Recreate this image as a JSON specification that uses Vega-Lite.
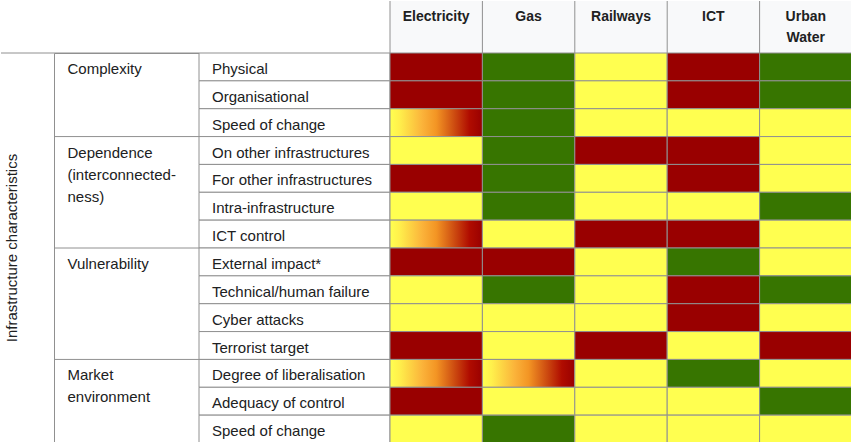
{
  "$schema": "https://vega.github.io/schema/vega-lite/v6.json",
  "padding": 0,
  "spacing": 0,
  "bounds": "flush",
  "columns": 4,
  "config": {"view": {"stroke": null}, "font": "Liberation Sans", "concat": {"spacing": 0}},
  "datasets": {
    "rows": [
      {"row": 1, "sub": "Physical"},
      {"row": 2, "sub": "Organisational"},
      {"row": 3, "sub": "Speed of change"},
      {"row": 4, "sub": "On other infrastructures"},
      {"row": 5, "sub": "For other infrastructures"},
      {"row": 6, "sub": "Intra-infrastructure"},
      {"row": 7, "sub": "ICT control"},
      {"row": 8, "sub": "External impact*"},
      {"row": 9, "sub": "Technical/human failure"},
      {"row": 10, "sub": "Cyber attacks"},
      {"row": 11, "sub": "Terrorist target"},
      {"row": 12, "sub": "Degree of liberalisation"},
      {"row": 13, "sub": "Adequacy of control"},
      {"row": 14, "sub": "Speed of change"}
    ],
    "groups": [
      {"row": 1, "label": ["Complexity"]},
      {"row": 4, "label": ["Dependence", "(interconnected-", "ness)"]},
      {"row": 8, "label": ["Vulnerability"]},
      {"row": 12, "label": ["Market", "environment"]}
    ],
    "infra": [
      {"infra": "Electricity", "label": ["Electricity"]},
      {"infra": "Gas", "label": ["Gas"]},
      {"infra": "Railways", "label": ["Railways"]},
      {"infra": "ICT", "label": ["ICT"]},
      {"infra": "Urban Water", "label": ["Urban", "Water"]}
    ],
    "cells": [
      {"row": 1, "infra": "Electricity", "level": "high"},
      {"row": 1, "infra": "Gas", "level": "low"},
      {"row": 1, "infra": "Railways", "level": "medium"},
      {"row": 1, "infra": "ICT", "level": "high"},
      {"row": 1, "infra": "Urban Water", "level": "low"},
      {"row": 2, "infra": "Electricity", "level": "high"},
      {"row": 2, "infra": "Gas", "level": "low"},
      {"row": 2, "infra": "Railways", "level": "medium"},
      {"row": 2, "infra": "ICT", "level": "high"},
      {"row": 2, "infra": "Urban Water", "level": "low"},
      {"row": 3, "infra": "Electricity", "level": "mixed"},
      {"row": 3, "infra": "Gas", "level": "low"},
      {"row": 3, "infra": "Railways", "level": "medium"},
      {"row": 3, "infra": "ICT", "level": "medium"},
      {"row": 3, "infra": "Urban Water", "level": "medium"},
      {"row": 4, "infra": "Electricity", "level": "medium"},
      {"row": 4, "infra": "Gas", "level": "low"},
      {"row": 4, "infra": "Railways", "level": "high"},
      {"row": 4, "infra": "ICT", "level": "high"},
      {"row": 4, "infra": "Urban Water", "level": "medium"},
      {"row": 5, "infra": "Electricity", "level": "high"},
      {"row": 5, "infra": "Gas", "level": "low"},
      {"row": 5, "infra": "Railways", "level": "medium"},
      {"row": 5, "infra": "ICT", "level": "high"},
      {"row": 5, "infra": "Urban Water", "level": "medium"},
      {"row": 6, "infra": "Electricity", "level": "medium"},
      {"row": 6, "infra": "Gas", "level": "low"},
      {"row": 6, "infra": "Railways", "level": "medium"},
      {"row": 6, "infra": "ICT", "level": "medium"},
      {"row": 6, "infra": "Urban Water", "level": "low"},
      {"row": 7, "infra": "Electricity", "level": "mixed"},
      {"row": 7, "infra": "Gas", "level": "medium"},
      {"row": 7, "infra": "Railways", "level": "high"},
      {"row": 7, "infra": "ICT", "level": "high"},
      {"row": 7, "infra": "Urban Water", "level": "medium"},
      {"row": 8, "infra": "Electricity", "level": "high"},
      {"row": 8, "infra": "Gas", "level": "high"},
      {"row": 8, "infra": "Railways", "level": "medium"},
      {"row": 8, "infra": "ICT", "level": "low"},
      {"row": 8, "infra": "Urban Water", "level": "medium"},
      {"row": 9, "infra": "Electricity", "level": "medium"},
      {"row": 9, "infra": "Gas", "level": "low"},
      {"row": 9, "infra": "Railways", "level": "medium"},
      {"row": 9, "infra": "ICT", "level": "high"},
      {"row": 9, "infra": "Urban Water", "level": "low"},
      {"row": 10, "infra": "Electricity", "level": "medium"},
      {"row": 10, "infra": "Gas", "level": "medium"},
      {"row": 10, "infra": "Railways", "level": "medium"},
      {"row": 10, "infra": "ICT", "level": "high"},
      {"row": 10, "infra": "Urban Water", "level": "medium"},
      {"row": 11, "infra": "Electricity", "level": "high"},
      {"row": 11, "infra": "Gas", "level": "medium"},
      {"row": 11, "infra": "Railways", "level": "high"},
      {"row": 11, "infra": "ICT", "level": "medium"},
      {"row": 11, "infra": "Urban Water", "level": "high"},
      {"row": 12, "infra": "Electricity", "level": "mixed"},
      {"row": 12, "infra": "Gas", "level": "mixed"},
      {"row": 12, "infra": "Railways", "level": "medium"},
      {"row": 12, "infra": "ICT", "level": "low"},
      {"row": 12, "infra": "Urban Water", "level": "medium"},
      {"row": 13, "infra": "Electricity", "level": "high"},
      {"row": 13, "infra": "Gas", "level": "medium"},
      {"row": 13, "infra": "Railways", "level": "medium"},
      {"row": 13, "infra": "ICT", "level": "medium"},
      {"row": 13, "infra": "Urban Water", "level": "low"},
      {"row": 14, "infra": "Electricity", "level": "medium"},
      {"row": 14, "infra": "Gas", "level": "low"},
      {"row": 14, "infra": "Railways", "level": "medium"},
      {"row": 14, "infra": "ICT", "level": "medium"},
      {"row": 14, "infra": "Urban Water", "level": "medium"}
    ]
  },
  "concat": [
    {
      "width": 53,
      "height": 52,
      "data": {"values": [{"t": ""}]},
      "mark": {"type": "text"},
      "encoding": {"text": {"field": "t"}}
    },
    {
      "width": 145,
      "height": 52,
      "data": {"values": [{"t": ""}]},
      "mark": {"type": "text"},
      "encoding": {"text": {"field": "t"}}
    },
    {
      "width": 191,
      "height": 52,
      "data": {"values": [{"t": ""}]},
      "mark": {"type": "text"},
      "encoding": {"text": {"field": "t"}}
    },
    {
      "width": 462,
      "height": 52,
      "data": {"name": "infra"},
      "layer": [
        {
          "mark": {"type": "rect", "fill": "#f8f9fa"},
          "encoding": {
            "x": {"field": "infra", "type": "nominal", "sort": ["Electricity", "Gas", "Railways", "ICT", "Urban Water"], "scale": {"type": "band", "paddingInner": 0, "paddingOuter": 0}, "axis": null}
          }
        },
        {
          "mark": {"type": "rule", "stroke": "#909090", "strokeWidth": 1},
          "encoding": {
            "x": {"field": "infra", "type": "nominal", "sort": ["Electricity", "Gas", "Railways", "ICT", "Urban Water"], "bandPosition": 0, "scale": {"type": "band", "paddingInner": 0, "paddingOuter": 0}, "axis": null}
          }
        },
        {
          "mark": {"type": "text", "fontWeight": "bold", "fontSize": 14, "baseline": "alphabetic", "align": "center", "dy": -6, "lineHeight": 21, "fill": "#202122"},
          "encoding": {
            "x": {"field": "infra", "type": "nominal", "sort": ["Electricity", "Gas", "Railways", "ICT", "Urban Water"], "bandPosition": 0.5, "scale": {"type": "band", "paddingInner": 0, "paddingOuter": 0}, "axis": null},
            "text": {"field": "label"}
          }
        }
      ]
    },
    {
      "width": 53,
      "height": 390,
      "layer": [
        {
          "data": {"values": [{"t": "Infrastructure characteristics"}]},
          "mark": {"type": "text", "angle": 270, "fontSize": 15, "align": "center", "baseline": "middle", "dy": -16, "fill": "#202122"},
          "encoding": {"text": {"field": "t"}}
        },
        {
          "data": {"values": [{"row": 1}]},
          "mark": {"type": "rule", "stroke": "#909090", "strokeWidth": 1},
          "encoding": {
            "y": {"field": "row", "type": "ordinal", "bandPosition": 0, "scale": {"type": "band", "domain": [1, 2, 3, 4, 5, 6, 7, 8, 9, 10, 11, 12, 13, 14], "paddingInner": 0, "paddingOuter": 0}, "axis": null}
          }
        }
      ]
    },
    {
      "width": 145,
      "height": 390,
      "view": {"stroke": "#909090", "strokeWidth": 1},
      "data": {"name": "groups"},
      "layer": [
        {
          "mark": {"type": "rule", "stroke": "#909090", "strokeWidth": 1},
          "encoding": {
            "y": {"field": "row", "type": "ordinal", "bandPosition": 0, "scale": {"type": "band", "domain": [1, 2, 3, 4, 5, 6, 7, 8, 9, 10, 11, 12, 13, 14], "paddingInner": 0, "paddingOuter": 0}, "axis": null}
          }
        },
        {
          "mark": {"type": "text", "align": "left", "baseline": "alphabetic", "dx": -59, "dy": 7, "fontSize": 15, "lineHeight": 22, "fill": "#202122"},
          "encoding": {
            "y": {"field": "row", "type": "ordinal", "bandPosition": 0.5, "scale": {"type": "band", "domain": [1, 2, 3, 4, 5, 6, 7, 8, 9, 10, 11, 12, 13, 14], "paddingInner": 0, "paddingOuter": 0}, "axis": null},
            "text": {"field": "label"}
          }
        }
      ]
    },
    {
      "width": 191,
      "height": 390,
      "data": {"name": "rows"},
      "layer": [
        {
          "mark": {"type": "rect", "fill": "white", "stroke": "#909090", "strokeWidth": 1},
          "encoding": {
            "y": {"field": "row", "type": "ordinal", "scale": {"type": "band", "domain": [1, 2, 3, 4, 5, 6, 7, 8, 9, 10, 11, 12, 13, 14], "paddingInner": 0, "paddingOuter": 0}, "axis": null}
          }
        },
        {
          "mark": {"type": "text", "align": "left", "baseline": "alphabetic", "dx": -82.5, "dy": 7, "fontSize": 15, "fill": "#202122"},
          "encoding": {
            "y": {"field": "row", "type": "ordinal", "bandPosition": 0.5, "scale": {"type": "band", "domain": [1, 2, 3, 4, 5, 6, 7, 8, 9, 10, 11, 12, 13, 14], "paddingInner": 0, "paddingOuter": 0}, "axis": null},
            "text": {"field": "sub"}
          }
        }
      ]
    },
    {
      "width": 462,
      "height": 390,
      "data": {"name": "cells"},
      "mark": {"type": "rect", "stroke": "#909090", "strokeWidth": 1},
      "encoding": {
        "x": {"field": "infra", "type": "nominal", "sort": ["Electricity", "Gas", "Railways", "ICT", "Urban Water"], "scale": {"type": "band", "paddingInner": 0, "paddingOuter": 0}, "axis": null},
        "y": {"field": "row", "type": "ordinal", "scale": {"type": "band", "domain": [1, 2, 3, 4, 5, 6, 7, 8, 9, 10, 11, 12, 13, 14], "paddingInner": 0, "paddingOuter": 0}, "axis": null},
        "fill": {
          "condition": {
            "test": "datum.level === 'mixed'",
            "value": {
              "gradient": "linear", "x1": 0, "y1": 0, "x2": 1, "y2": 0,
              "stops": [
                {"offset": 0, "color": "#ffff50"},
                {"offset": 0.1, "color": "#fff04c"},
                {"offset": 0.35, "color": "#fbb33a"},
                {"offset": 0.5, "color": "#f39524"},
                {"offset": 0.7, "color": "#cc4a10"},
                {"offset": 0.86, "color": "#b00c00"},
                {"offset": 1, "color": "#990000"}
              ]
            }
          },
          "field": "level",
          "type": "nominal",
          "scale": {"domain": ["high", "medium", "low"], "range": ["#990000", "#ffff50", "#377500"]},
          "legend": null
        }
      }
    }
  ]
}
